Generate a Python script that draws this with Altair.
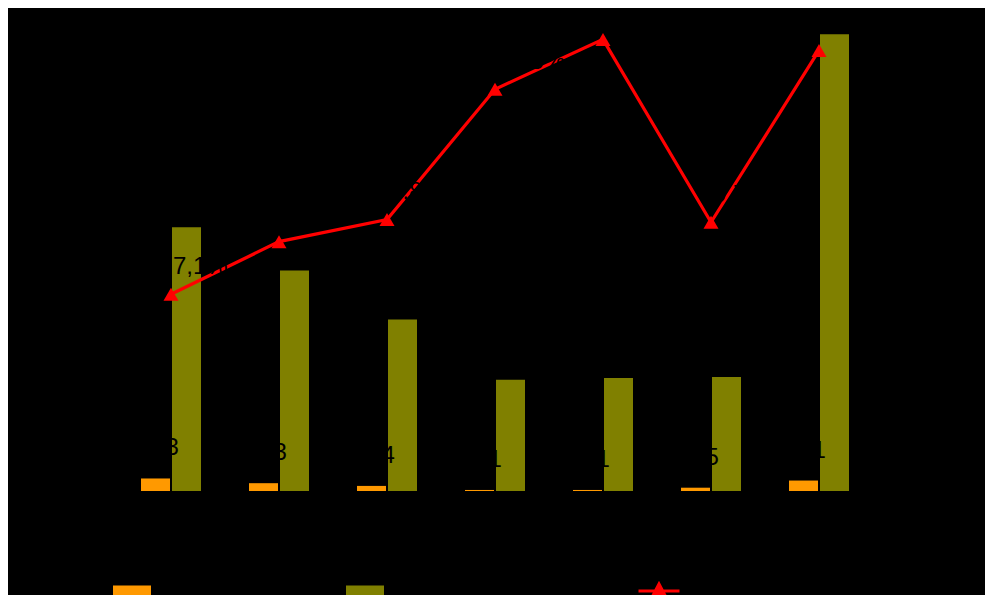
import altair as alt
import pandas as pd

categories = ["2016", "2017", "2018", "2019", "2020", "2021", "2022"]
orange_values = [1.33, 0.83, 0.54, 0.11, 0.11, 0.35, 1.11]
olive_values = [28.0, 23.4, 18.2, 11.8, 12.0, 12.1, 48.5]
line_values = [7.1, 9.0, 9.8, 14.5, 16.3, 9.7, 15.9]
series_names = ["Lucro líquido", "Receita líquida", "Margem líquida"]

ORANGE = "#FF9900"
OLIVE = "#808000"
RED = "#FF0000"
FONT = "Liberation Sans"


def br(v, d):
    return f"{v:.{d}f}".replace(".", ",")


df = pd.DataFrame({
    "cat": categories,
    "orange": orange_values,
    "olive": olive_values,
    "line": line_values,
    "orange_label": [br(v, 2) for v in orange_values],
    "line_label": [br(v, 1) + "%" for v in line_values],
    "s1": series_names[0],
    "s2": series_names[1],
    "s3": series_names[2],
})

base = alt.Chart(df)

x = alt.X("cat:N", sort=categories,
          scale=alt.Scale(paddingInner=0, paddingOuter=0),
          axis=alt.Axis(title=None, labelAngle=0, labelColor="black", labelFontSize=20,
                        labelFont=FONT, domainColor="black", tickColor="black", ticks=False,
                        labelPadding=12))

left_scale = alt.Scale(domain=[0, 50], nice=False, zero=True)
right_scale = alt.Scale(domain=[0, 17], nice=False, zero=True)
left_axis = alt.Axis(title=None, orient="left", labelColor="black", labelFontSize=20, labelFont=FONT,
                     domainColor="black", tickColor="black", grid=False)
right_axis = alt.Axis(title=None, orient="right", labelColor="black", labelFontSize=20, labelFont=FONT,
                      domainColor="black", tickColor="black", grid=False)

rect_path = "M-1,-0.29H1V0.29H-1Z"
line_path = "M-1,0L1,0M0,-0.34L0.35,0.32L-0.35,0.32Z"

def bar_legend(lx):
    return alt.Legend(title=None, orient="none", legendX=lx, legendY=552, symbolType=rect_path,
                      symbolSize=1444, symbolStrokeWidth=0, labelColor="black", labelFontSize=10,
                      labelFont=FONT, padding=0, symbolOpacity=1)

orange_bars = base.mark_bar(width=29, xOffset=-15.5).encode(
    x=x,
    y=alt.Y("orange:Q", scale=left_scale, axis=left_axis),
    fill=alt.Fill("s1:N", scale=alt.Scale(domain=[series_names[0]], range=[ORANGE]),
                  legend=bar_legend(-4)),
)
olive_bars = base.mark_bar(width=29, xOffset=15.5).encode(
    x=x,
    y=alt.Y("olive:Q", scale=left_scale, axis=left_axis),
    color=alt.Color("s2:N", scale=alt.Scale(domain=[series_names[1]], range=[OLIVE]),
                    legend=bar_legend(229)),
)
orange_text = base.mark_text(font=FONT, fontSize=24, color="black", dy=-30, xOffset=-15.5,
                             baseline="middle").encode(
    x=x,
    y=alt.Y("orange:Q", scale=left_scale, axis=left_axis),
    text="orange_label:N",
)

line = base.mark_line(strokeWidth=3.2).encode(
    x=x,
    y=alt.Y("line:Q", scale=right_scale, axis=right_axis),
    stroke=alt.Stroke("s3:N", scale=alt.Scale(domain=[series_names[2]], range=[RED]),
                      legend=alt.Legend(title=None, orient="none", legendX=520, legendY=549,
                                        symbolType=line_path, symbolSize=1681, symbolStrokeWidth=3,
                                        symbolFillColor=RED, labelColor="black", labelFontSize=10,
                                        labelFont=FONT, padding=0)),
)
points = base.mark_point(shape="triangle-up", filled=True, size=225, color=RED, opacity=1).encode(
    x=x,
    y=alt.Y("line:Q", scale=right_scale, axis=right_axis),
)
line_text = base.mark_text(font=FONT, fontSize=24, color="black", align="left", dx=2, dy=-27,
                           baseline="middle").encode(
    x=x,
    y=alt.Y("line:Q", scale=right_scale, axis=right_axis),
    text="line_label:N",
)

left = alt.layer(orange_bars, olive_bars, orange_text)
right = alt.layer(line, points, line_text)

chart = alt.layer(left, right).resolve_scale(y="independent").properties(
    width=756,
    height=471,
    padding={"left": 109, "top": 12, "right": 112, "bottom": 104},
    autosize=alt.AutoSizeParams(type="none"),
    background="black",
).configure_view(stroke=None)

chart.save("out.html", embed_options={"renderer": "svg", "actions": False})
